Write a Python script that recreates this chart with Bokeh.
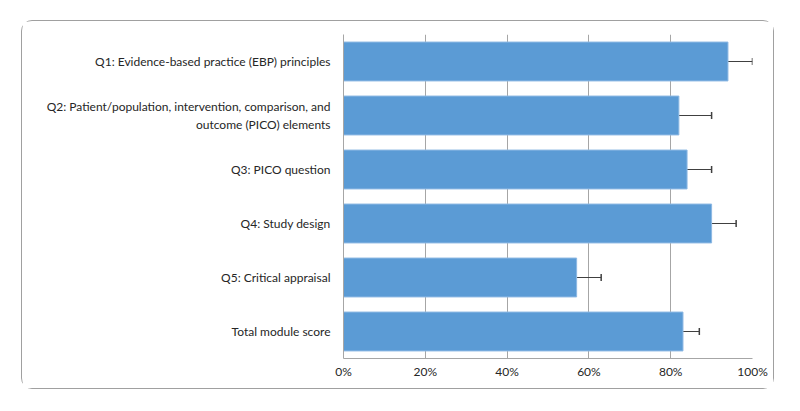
from bokeh.plotting import figure
from bokeh.models import ColumnDataSource, FactorRange, Range1d, NumeralTickFormatter, FixedTicker, Whisker, TeeHead
from bokeh.embed import file_html
from bokeh.resources import INLINE

categories = [
    "Q1: Evidence-based practice (EBP) principles",
    "Q2: Patient/population, intervention, comparison, and\noutcome (PICO) elements",
    "Q3: PICO question",
    "Q4: Study design",
    "Q5: Critical appraisal",
    "Total module score",
]
scores = [0.94, 0.82, 0.84, 0.90, 0.57, 0.83]
errors = [0.06, 0.08, 0.06, 0.06, 0.06, 0.04]
x_ticks = [0, 0.2, 0.4, 0.6, 0.8, 1.0]

src = ColumnDataSource(dict(
    cat=categories,
    score=scores,
    upper=[s + e for s, e in zip(scores, errors)],
))

FONT = "Lato"
TXT = "#262626"
GRID = "#a6a6a6"

p = figure(
    width=753, height=369,
    y_range=FactorRange(factors=list(reversed(categories))),
    x_range=Range1d(0, 1),
    output_backend="svg", toolbar_location=None,
    min_border_left=321, min_border_right=23, min_border_top=13, min_border_bottom=32,
)
p.margin = (20, 0, 0, 21)
p.styles = {"border": "1.5px solid #a0a0a0", "border-radius": "11px", "box-sizing": "border-box"}
p.outline_line_color = None
p.background_fill_color = "white"

p.hbar(y="cat", right="score", left=0, height=0.72, source=src,
       fill_color="#5b9bd5", line_color="#8db8e3", line_width=1)

w = Whisker(source=src, base="cat", lower="score", upper="upper", dimension="width",
            line_color="#404040", line_width=1,
            lower_head=None, upper_head=TeeHead(size=7, line_color="#404040", line_width=1.5))
p.add_layout(w)

p.xaxis.ticker = FixedTicker(ticks=x_ticks)
p.xaxis.formatter = NumeralTickFormatter(format="0%")
p.xaxis.major_tick_line_color = None
p.xaxis.minor_tick_line_color = None
p.xaxis.major_tick_out = 0
p.xaxis.minor_tick_out = 0
p.xaxis.axis_line_color = GRID
p.xaxis.major_label_text_font = FONT
p.xaxis.major_label_text_font_size = "12px"
p.xaxis.major_label_text_color = TXT
p.xaxis.major_label_standoff = 5

p.yaxis.major_tick_line_color = None
p.yaxis.minor_tick_line_color = None
p.yaxis.major_tick_out = 0
p.yaxis.minor_tick_out = 0
p.yaxis.axis_line_color = GRID
p.yaxis.major_label_text_font = FONT
p.yaxis.major_label_text_font_size = "12px"
p.yaxis.major_label_text_color = TXT
p.yaxis.major_label_standoff = 13

p.ygrid.grid_line_color = None
p.xgrid.grid_line_color = GRID
p.xgrid.grid_line_width = 1

open("out.html", "w").write(file_html(p, INLINE))
